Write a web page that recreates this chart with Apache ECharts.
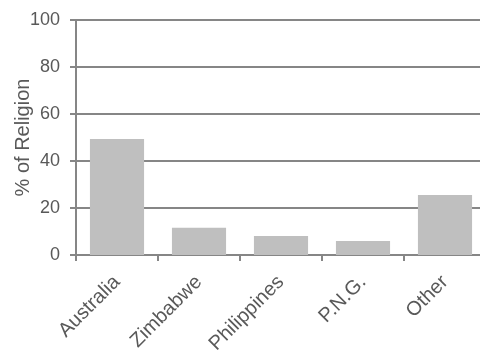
<!DOCTYPE html>
<html><head><meta charset="utf-8">
<script src="https://cdn.jsdelivr.net/npm/echarts@6/dist/echarts.min.js"></script>
<style>html,body{margin:0;padding:0;background:#fff}#c{width:480px;height:360px}</style>
</head><body><div id="c"></div>
<script>
const categories = ["Australia", "Zimbabwe", "Philippines", "P.N.G.", "Other"];
const values = [49.4, 11.6, 8.1, 6.0, 25.5];
const yTicks = [0, 20, 40, 60, 80, 100];

const chart = echarts.init(document.getElementById('c'), null, {renderer: 'canvas'});
chart.setOption({
  animation: false,
  grid: {left: 76, right: -6, top: 20, bottom: 105, containLabel: false, outerBoundsMode: 'none'},
  xAxis: {
    type: 'category', data: categories,
    axisLine: {lineStyle: {color: '#868686', width: 2}},
    axisTick: {show: true, length: 6, lineStyle: {color: '#868686', width: 2}},
    axisLabel: {rotate: 45, color: '#595959', fontSize: 20, fontFamily: 'Liberation Sans', margin: 24}
  },
  yAxis: {
    type: 'value', min: 0, max: 100, interval: 20,
    name: '% of Religion', nameLocation: 'middle', nameGap: 43, nameMoveOverlap: false,
    nameTextStyle: {color: '#595959', fontSize: 20, fontFamily: 'Liberation Sans'},
    axisLine: {show: true, lineStyle: {color: '#868686', width: 2}},
    axisTick: {show: true, length: 6, lineStyle: {color: '#868686', width: 2}},
    axisLabel: {color: '#595959', fontSize: 18, fontFamily: 'Liberation Sans', margin: 16,
      formatter: v => yTicks.includes(v) ? String(v) : ''},
    splitLine: {lineStyle: {color: '#868686', width: 2}}
  },
  series: [{
    type: 'bar', data: values, barCategoryGap: '34%',
    itemStyle: {color: '#bfbfbf'}
  }]
});
</script></body></html>
